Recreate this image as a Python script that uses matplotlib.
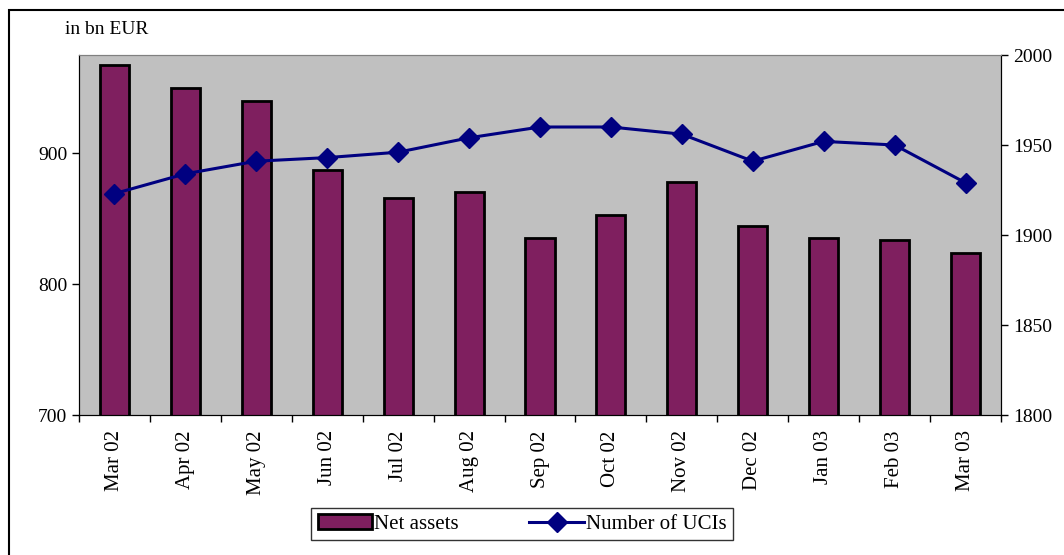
import matplotlib
matplotlib.use('Agg')
from matplotlib import pyplot as plt
from matplotlib.patches import Rectangle
import numpy as np

plt.rcParams['font.family'] = ['Liberation Serif', 'DejaVu Serif']

months = ['Mar 02', 'Apr 02', 'May 02', 'Jun 02', 'Jul 02', 'Aug 02', 'Sep 02',
          'Oct 02', 'Nov 02', 'Dec 02', 'Jan 03', 'Feb 03', 'Mar 03']
net_assets = [967, 950, 940, 887, 866, 870, 835, 853, 878, 844, 835, 834, 824]
num_ucis = [1923, 1934, 1941, 1943, 1946, 1954, 1960, 1960, 1956, 1941, 1952, 1950, 1929]

W, H = 1064, 555
fig = plt.figure(figsize=(W / 100, H / 100), dpi=100)

# outer frame (only left and top edges visible)
fig.patches.append(Rectangle((9 / W, -0.1), 1.2, 1 - 10 / H + 0.1, transform=fig.transFigure,
                             fill=False, edgecolor='black', linewidth=1.5))

left, right, top, bottom = 79, 1001, 55, 415
ax = fig.add_axes([left / W, 1 - bottom / H, (right - left) / W, (bottom - top) / H])
ax.set_facecolor('#c0c0c0')

x = np.arange(len(months))
bars = ax.bar(x, net_assets, width=0.41, color='#7f1f5f', edgecolor='black',
              linewidth=2, zorder=2, label='Net assets')
ax.set_ylim(700, 975)
ax.set_xlim(-0.5, len(months) - 0.5)
ax.set_yticks([700, 800, 900])
ax.set_xticks(x)
ax.set_xticklabels(months, rotation=90, fontsize=15)
ax.set_xticks(np.arange(-0.5, len(months), 1.0), minor=True)
ax.tick_params(axis='x', which='major', length=0, pad=11)
ax.tick_params(axis='x', which='minor', length=5, direction='out', width=1)
ax.tick_params(axis='y', length=5, direction='out', labelsize=14, width=1)

ax2 = ax.twinx()
line, = ax2.plot(x, num_ucis, color='#000080', linewidth=2.2, marker='D', markersize=10,
                 label='Number of UCIs', zorder=3)
ax2.set_ylim(1800, 2000)
ax2.set_yticks([1800, 1850, 1900, 1950, 2000])
ax2.tick_params(axis='y', length=5, direction='out', labelsize=14, width=1)

for a in (ax, ax2):
    a.spines['top'].set_color('#808080')
    a.spines['left'].set_color('black')
    a.spines['right'].set_color('black')
    a.spines['bottom'].set_color('black')

fig.text(65 / W, 1 - 29 / H, 'in bn EUR', fontsize=14, va='center', ha='left')

leg = fig.legend([bars, line], ['Net assets', 'Number of UCIs'], loc='center',
                 bbox_to_anchor=(522 / W, 1 - 524 / H), ncol=2, fontsize=15,
                 frameon=True, fancybox=False, edgecolor='black', borderpad=0.3,
                 handlelength=2.6, handletextpad=0.1, columnspacing=3.4,
                 borderaxespad=0, handleheight=0.7)
leg.get_frame().set_linewidth(1)

fig.savefig('out.png', dpi=100)
